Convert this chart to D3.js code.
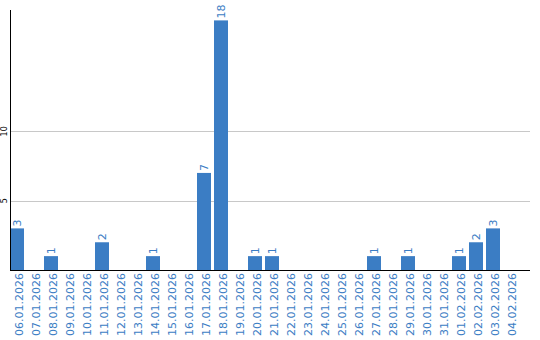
<!DOCTYPE html>
<html>
<head>
<meta charset="utf-8">
<script src="https://cdnjs.cloudflare.com/ajax/libs/d3/7.8.5/d3.min.js"></script>
<style>
  body { margin: 0; background: #fff; }
  svg { display: block; }
</style>
</head>
<body>
<svg width="540" height="340"></svg>
<script>
var dates = ["06.01.2026","07.01.2026","08.01.2026","09.01.2026","10.01.2026","11.01.2026",
  "12.01.2026","13.01.2026","14.01.2026","15.01.2026","16.01.2026","17.01.2026","18.01.2026",
  "19.01.2026","20.01.2026","21.01.2026","22.01.2026","23.01.2026","24.01.2026","25.01.2026",
  "26.01.2026","27.01.2026","28.01.2026","29.01.2026","30.01.2026","31.01.2026","01.02.2026",
  "02.02.2026","03.02.2026","04.02.2026"];
var counts = [3,0,1,0,0,2,0,0,1,0,0,7,18,0,1,1,0,0,0,0,0,1,0,1,0,0,1,2,3,0];
var yTicks = [5, 10];

var blue = "#3b7dc4";
var svg = d3.select("svg");
var data = dates.map(function(d, i) { return {date: d, n: counts[i]}; });

var x = d3.scaleBand()
  .domain(dates)
  .range([10, 517])
  .paddingInner(3 / 17)
  .paddingOuter(0);
var y = d3.scaleLinear().domain([0, 18.75]).range([270, 10]);

// grid
svg.selectAll("line.grid")
  .data(yTicks)
  .enter()
  .append("line")
    .attr("x1", 10).attr("x2", 530)
    .attr("y1", function(d) {return Math.round(y(d)) + 0.5;})
    .attr("y2", function(d) {return Math.round(y(d)) + 0.5;})
    .attr("stroke", "#c8c8c8");

svg.selectAll("text.ytick")
  .data(yTicks)
  .enter()
  .append("text")
    .attr("transform", function(d) {return "translate(7," + y(d) + ") rotate(-90)";})
    .attr("text-anchor", "middle")
    .attr("font-family", "DejaVu Sans")
    .attr("font-size", 8)
    .attr("fill", "#000")
    .text(function(d) {return d;});

// bars
svg.selectAll("rect")
  .data(data)
  .enter()
  .append("rect")
    .attr("x", function(d) {return x(d.date);})
    .attr("y", function(d) {return y(d.n);})
    .attr("width", x.bandwidth())
    .attr("height", function(d) {return y(0) - y(d.n);})
    .attr("fill", blue);

svg.selectAll("text.val")
  .data(data.filter(function(d) {return d.n > 0;}))
  .enter()
  .append("text")
    .attr("transform", function(d) {
      return "translate(" + (x(d.date) + x.bandwidth() / 2 + 4) + "," + (y(d.n) - 2) + ") rotate(-90)";
    })
    .attr("font-family", "DejaVu Sans")
    .attr("font-size", 11)
    .attr("fill", blue)
    .text(function(d) {return d.n;});

// axes
svg.append("line")
  .attr("x1", 10.5).attr("x2", 10.5).attr("y1", 10).attr("y2", 270)
  .attr("stroke", "#000");
svg.append("line")
  .attr("x1", 10).attr("x2", 530).attr("y1", 270.5).attr("y2", 270.5)
  .attr("stroke", "#000");

svg.selectAll("text.xlab")
  .data(dates)
  .enter()
  .append("text")
    .attr("transform", function(d) {
      return "translate(" + (x(d) + x.bandwidth() / 2 + 6) + ",273) rotate(-90)";
    })
    .attr("text-anchor", "end")
    .attr("font-family", "DejaVu Sans")
    .attr("font-size", 11)
    .attr("fill", blue)
    .text(function(d) {return d;});
</script>
</body>
</html>
